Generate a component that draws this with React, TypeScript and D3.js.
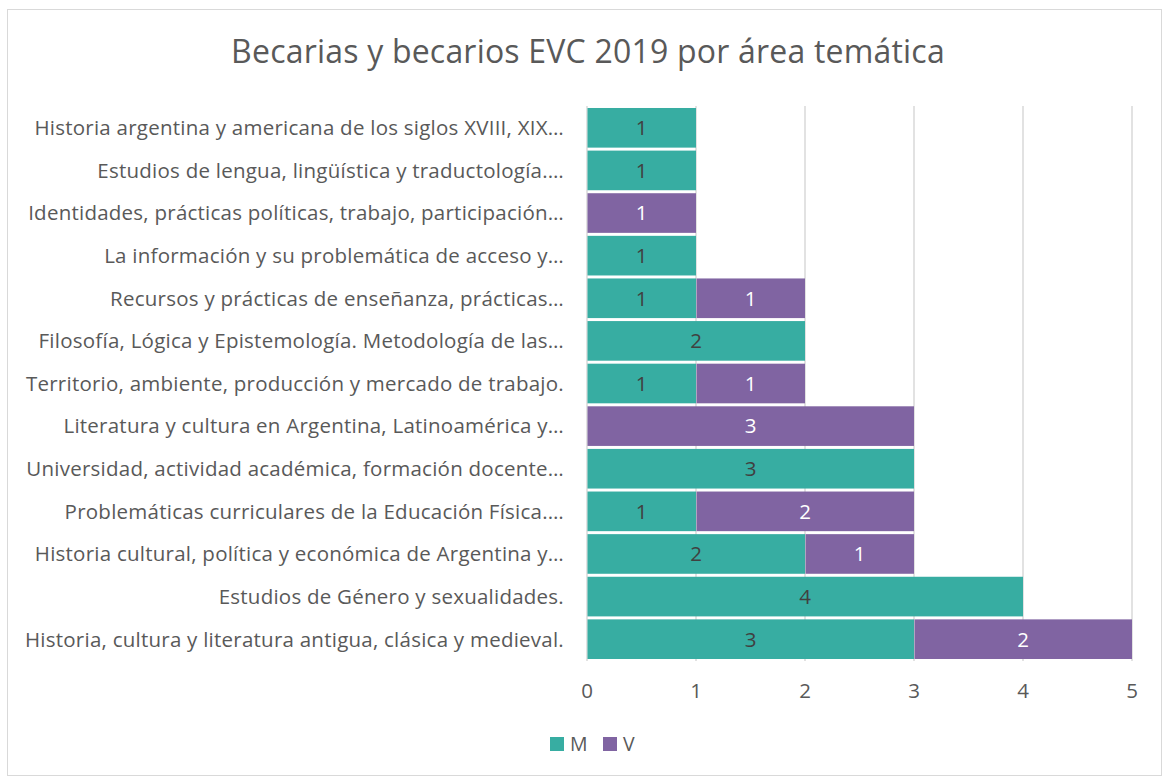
import React from "react";
import * as d3 from "d3";

const categories = [
  "Historia argentina y americana de los siglos XVIII, XIX…",
  "Estudios de lengua, lingüística y traductología.…",
  "Identidades, prácticas políticas, trabajo, participación…",
  "La información y su problemática de acceso y…",
  "Recursos y prácticas de enseñanza, prácticas…",
  "Filosofía, Lógica y Epistemología. Metodología de las…",
  "Territorio, ambiente, producción y mercado de trabajo.",
  "Literatura y cultura en Argentina, Latinoamérica y…",
  "Universidad, actividad académica, formación docente…",
  "Problemáticas curriculares de la Educación Física.…",
  "Historia cultural, política y económica de Argentina y…",
  "Estudios de Género y sexualidades.",
  "Historia, cultura y literatura antigua, clásica y medieval.",
];
const valuesM = [1, 1, 0, 1, 1, 2, 1, 0, 3, 1, 2, 4, 3];
const valuesV = [0, 0, 1, 0, 1, 0, 1, 3, 0, 2, 1, 0, 2];
const xTicks = [0, 1, 2, 3, 4, 5];
const seriesNames = ["M", "V"];
const colors = ["#37ADA2", "#8064A2"];
const labelColors = ["#404040", "#FFFFFF"];

const W = 1163;
const H = 776;
const FONT = "'Open Sans', Lato, sans-serif";

export default function App() {
  const x = d3.scaleLinear().domain([0, 5]).range([587, 1132]);
  const y = d3
    .scaleBand()
    .domain(categories)
    .range([106.5, 660.5])
    .paddingInner(0.07)
    .paddingOuter(0.035);
  const stacked = categories.map((c, i) => {
    const vals = [valuesM[i], valuesV[i]];
    let acc = 0;
    return vals.map((v, s) => {
      const seg = { cat: c, s, v, x0: acc, x1: acc + v };
      acc += v;
      return seg;
    });
  });
  return (
    <svg width={W} height={H} style={{ position: "absolute", left: 0, top: 0 }}>
      <rect x={0} y={0} width={W} height={H} fill="#fff" />
      <rect x={7.5} y={9.5} width={W - 9} height={H - 10} fill="#fff" stroke="#D9D9D9" strokeWidth={1} />
      <text
        x={588}
        y={63}
        textAnchor="middle"
        fontFamily={FONT}
        fontSize={32}
        letterSpacing={0.2}
        fill="#595959"
      >
        Becarias y becarios EVC 2019 por área temática
      </text>
      {xTicks.map((t) => (
        <line key={"g" + t} x1={x(t)} x2={x(t)} y1={106} y2={661} stroke="#D9D9D9" strokeWidth={1.5} />
      ))}
      {stacked.flat().filter((d) => d.v > 0).map((d, i) => (
        <g key={"b" + i}>
          <rect
            x={x(d.x0) + 0.5}
            y={y(d.cat)!}
            width={x(d.x1) - x(d.x0) - 0.5}
            height={y.bandwidth()}
            fill={colors[d.s]}
          />
          <text
            x={(x(d.x0) + x(d.x1)) / 2}
            y={y(d.cat)! + y.bandwidth() / 2}
            dy="0.36em"
            textAnchor="middle"
            fontFamily={FONT}
            fontSize={20.5}
            fill={labelColors[d.s]}
          >
            {d.v}
          </text>
        </g>
      ))}
      {categories.map((c) => (
        <text
          key={c}
          x={564}
          y={y(c)! + y.bandwidth() / 2}
          dy="0.36em"
          textAnchor="end"
          fontFamily={FONT}
          fontSize={20.5}
          letterSpacing={0.24}
          fill="#595959"
        >
          {c}
        </text>
      ))}
      {xTicks.map((t) => (
        <text key={"t" + t} x={x(t)} y={698} textAnchor="middle" fontFamily={FONT} fontSize={20.5} fill="#595959">
          {t}
        </text>
      ))}
      {seriesNames.map((s, i) => (
        <g key={s} transform={`translate(${550 + i * 53},737)`}>
          <rect x={0} y={0} width={14} height={14} fill={colors[i]} />
          <text x={20} y={14} fontFamily={FONT} fontSize={19.5} fill="#595959">
            {s}
          </text>
        </g>
      ))}
    </svg>
  );
}
